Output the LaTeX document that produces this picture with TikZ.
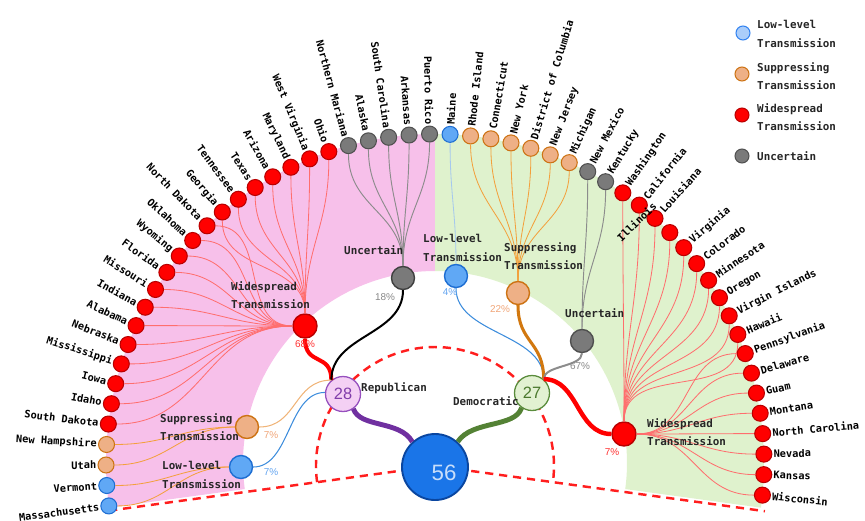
\documentclass[tikz,border=0pt]{standalone}
\usepackage{fontspec}
\setmonofont{DejaVu Sans Mono}
\newfontfamily\numfont{Liberation Sans}
\usepackage{tikz}
\usetikzlibrary{calc}
\usetikzlibrary{positioning}

\definecolor{pinkbg}{RGB}{247,192,234}
\definecolor{greenbg}{RGB}{223,242,205}
\definecolor{wideRed}{RGB}{255,0,0}
\definecolor{wideRim}{RGB}{185,0,0}
\definecolor{wideLine}{RGB}{255,110,110}
\definecolor{supFill}{RGB}{238,176,134}
\definecolor{supRim}{RGB}{205,115,20}
\definecolor{supLine}{RGB}{243,160,60}
\definecolor{supThick}{RGB}{210,120,15}
\definecolor{lowFill}{RGB}{96,168,245}
\definecolor{lowRim}{RGB}{30,110,210}
\definecolor{lowLine}{RGB}{165,200,238}
\definecolor{uncFill}{RGB}{122,122,122}
\definecolor{uncRim}{RGB}{80,80,80}
\definecolor{uncLine}{RGB}{140,140,140}
\definecolor{repFill}{RGB}{244,208,244}
\definecolor{repRim}{RGB}{150,80,190}
\definecolor{repText}{RGB}{128,60,170}
\definecolor{demFill}{RGB}{226,241,210}
\definecolor{demRim}{RGB}{90,140,60}
\definecolor{demText}{RGB}{74,120,45}
\definecolor{totFill}{RGB}{26,117,232}
\definecolor{totRim}{RGB}{10,70,160}
\definecolor{totText}{RGB}{200,222,250}
\definecolor{purpleLink}{RGB}{112,48,160}
\definecolor{greenLink}{RGB}{84,130,53}
\definecolor{dashRed}{RGB}{255,30,30}
\definecolor{linkBlue}{RGB}{60,140,220}
\definecolor{linkOrange}{RGB}{240,180,120}
\definecolor{legLowFill}{RGB}{170,205,250}
\definecolor{legLowRim}{RGB}{50,130,240}
\definecolor{pctRed}{RGB}{255,50,50}
\definecolor{pctGray}{RGB}{136,136,136}
\definecolor{pctBlue}{RGB}{100,165,240}
\definecolor{pctOrange}{RGB}{240,165,120}

\begin{document}
\begin{tikzpicture} [
            x=0.03cm, y=-0.03cm,
            % ----- Node definitions ----- %
            leaf/.style = {circle, inner sep=0pt, minimum size=0.48cm, line width=0.9pt},
            mid/.style = {circle, inner sep=0pt, minimum size=0.69cm, line width=1.2pt},
            party/.style = {circle, inner sep=0pt, minimum size=1.05cm, line width=1.1pt,
                font=\numfont\fontsize{14}{16}\selectfont},
            legdot/.style = {circle, inner sep=0pt, minimum size=0.42cm, line width=0.9pt},
            lowdot/.style = {fill=lowFill, draw=lowRim},
            supdot/.style = {fill=supFill, draw=supRim},
            widedot/.style = {fill=wideRed, draw=wideRim},
            uncdot/.style = {fill=uncFill, draw=uncRim},
            statelbl/.style = {font=\ttfamily\bfseries\fontsize{8.8}{10}\selectfont, inner sep=0.5pt},
            grouplbl/.style = {font=\ttfamily\bfseries\fontsize{9.3}{15.5}\selectfont, inner sep=0pt,
                align=left, text=black!85},
            pct/.style = {font=\numfont\fontsize{8.5}{10}\selectfont, inner sep=0pt},
            % ----- Edge definitions ----- %
            wideedge/.style = {draw=wideLine, line width=0.7pt},
            supedge/.style = {draw=supLine, line width=0.7pt},
            uncedge/.style = {draw=uncLine, line width=0.8pt},
            lowedge/.style = {draw=lowLine, line width=0.7pt},
            linkl/.style = {out=0, in=180, looseness=1.1},
            linkr/.style = {out=180, in=0, looseness=1.1},
            linkv/.style = {out=270, in=90, looseness=1.1},
            dashline/.style = {draw=dashRed, line width=2.1pt, dash pattern=on 7pt off 5pt},
    ]
    \useasboundingbox (0,0) rectangle (865,520);

            % ----- Background sectors ----- %
        \coordinate (C) at (435,463);
        \coordinate (D) at (435,466);
        \fill[pinkbg] ($(C)+(-187.8:192)$) arc[start angle=-187.8, end angle=-90, radius=192]
            -- ($(C)+(-90:329)$) arc[start angle=-90, end angle=-187.8, radius=329] -- cycle;
        \fill[greenbg] ($(C)+(-90:192)$) arc[start angle=-90, end angle=7.8, radius=192]
            -- ($(C)+(7.8:329)$) arc[start angle=7.8, end angle=-90, radius=329] -- cycle;

        \draw[dashline] ($(D)+(-187.8:119)$) arc[start angle=-187.8, end angle=7.8, radius=119];
        \draw[dashline] ($(D)+(-187.8:329)$) -- (D) -- ($(D)+(7.8:333)$);

            % ----- Node constructions ----- %
        \node [mid, widedot, minimum size=0.72cm] (wideL) at (305,326) {};
        \node [mid, uncdot, draw=black!75] (uncL) at (403,278) {};
        \node [mid, lowdot] (lowR) at (456,276) {};
        \node [mid, supdot] (supR) at (518,293) {};
        \node [mid, uncdot] (uncR) at (582,341) {};
        \node [mid, widedot, minimum size=0.72cm] (wideR) at (624,434) {};
        \node [mid, supdot] (supL) at (247,427) {};
        \node [mid, lowdot] (lowL) at (241,467) {};
        \node [party, fill=repFill, draw=repRim, text=repText] (rep) at (343,394) {28};
        \node [party, fill=demFill, draw=demRim, text=demText] (dem) at (532,393) {27};
        \node [circle, inner sep=0pt, minimum size=1.98cm, fill=totFill, draw=totRim,
            line width=1.6pt] (tot) at (435,467) {};
        \node [font=\numfont\fontsize{19}{20}\selectfont, text=totText, inner sep=0pt]
            (totnum) at (444,473) {56};

            % ----- Group links ----- %
        \draw[wideRed, line width=3.4pt] (wideL.south) .. controls +(0,28) and +(0,-28) .. (rep.130);
        \draw[black, line width=1.7pt] (uncL.south) .. controls +(0,45) and +(0,-45) .. (rep.130);
        \draw[linkOrange, line width=0.9pt] (supL.east) .. controls +(38,0) and +(-38,0) .. (rep.130);
        \draw[linkBlue, line width=0.9pt] (lowL.east) .. controls +(37,0) and +(-37,0) .. (rep.175);
        \draw[linkBlue, line width=0.9pt] (lowR.south) .. controls +(0,46) and +(0,-46) .. (dem.50);
        \draw[supThick, line width=2.6pt] (supR.south) .. controls +(0,38) and +(0,-38) .. (dem.50);
        \draw[uncLine, line width=1.7pt] (uncR.south) .. controls +(0,14) and +(0,-14) .. (dem.50);
        \draw[wideRed, line width=3.8pt] (dem.50) .. controls +(35,0) and +(-35,0) .. (wideR.west);
        \draw[purpleLink, line width=4.2pt] (rep.-55) .. controls (360,428) and (400,420) .. (tot.132);
        \draw[greenLink, line width=4.2pt] (dem.-125) .. controls (515,428) and (472,420) .. (tot.48);

            % ----- States ----- %
        \foreach \i/\lab/\kind/\pa/\ed/\mode in {
            0/Massachusetts/lowdot/lowL/supedge/linkl,
            1/Vermont/lowdot/lowL/supedge/linkl,
            2/Utah/supdot/supL/supedge/linkl,
            3/New Hampshire/supdot/supL/supedge/linkl,
            4/South Dakota/widedot/wideL/wideedge/linkl,
            5/Idaho/widedot/wideL/wideedge/linkl,
            6/Iowa/widedot/wideL/wideedge/linkl,
            7/Mississippi/widedot/wideL/wideedge/linkl,
            8/Nebraska/widedot/wideL/wideedge/linkl,
            9/Alabama/widedot/wideL/wideedge/linkl,
            10/Indiana/widedot/wideL/wideedge/linkl,
            11/Missouri/widedot/wideL/wideedge/linkl,
            12/Florida/widedot/wideL/wideedge/linkl,
            13/Wyoming/widedot/wideL/wideedge/linkl,
            14/Oklahoma/widedot/wideL/wideedge/linkl,
            15/North Dakota/widedot/wideL/wideedge/linkl,
            16/Georgia/widedot/wideL/wideedge/linkv,
            17/Tennessee/widedot/wideL/wideedge/linkv,
            18/Texas/widedot/wideL/wideedge/linkv,
            19/Arizona/widedot/wideL/wideedge/linkv,
            20/Maryland/widedot/wideL/wideedge/linkv,
            21/West Virginia/widedot/wideL/wideedge/linkv,
            22/Ohio/widedot/wideL/wideedge/linkv,
            23/Northern Mariana/uncdot/uncL/uncedge/linkv,
            24/Alaska/uncdot/uncL/uncedge/linkv,
            25/South Carolina/uncdot/uncL/uncedge/linkv,
            26/Arkansas/uncdot/uncL/uncedge/linkv,
            27/Puerto Rico/uncdot/uncL/uncedge/linkv,
            28/Maine/lowdot/lowR/lowedge/linkv,
            29/Rhode Island/supdot/supR/supedge/linkv,
            30/Connecticut/supdot/supR/supedge/linkv,
            31/New York/supdot/supR/supedge/linkv,
            32/District of Columbia/supdot/supR/supedge/linkv,
            33/New Jersey/supdot/supR/supedge/linkv,
            34/Michigan/supdot/supR/supedge/linkv,
            35/New Mexico/uncdot/uncR/uncedge/linkv,
            36/Kentucky/uncdot/uncR/uncedge/linkv,
            37/Washington/widedot/wideR/wideedge/linkv,
            38/California/widedot/wideR/wideedge/linkv,
            39/Louisiana/widedot/wideR/wideedge/linkv,
            40//widedot/wideR/wideedge/linkv,
            41/Virginia/widedot/wideR/wideedge/linkv,
            42/Colorado/widedot/wideR/wideedge/linkv,
            43/Minnesota/widedot/wideR/wideedge/linkv,
            44/Oregon/widedot/wideR/wideedge/linkv,
            45/Virgin Islands/widedot/wideR/wideedge/linkv,
            46/Hawaii/widedot/wideR/wideedge/linkv,
            47/Pennsylvania/widedot/wideR/wideedge/linkr,
            48/Delaware/widedot/wideR/wideedge/linkr,
            49/Guam/widedot/wideR/wideedge/linkr,
            50/Montana/widedot/wideR/wideedge/linkr,
            51/North Carolina/widedot/wideR/wideedge/linkr,
            52/Nevada/widedot/wideR/wideedge/linkr,
            53/Kansas/widedot/wideR/wideedge/linkr,
            54/Wisconsin/widedot/wideR/wideedge/linkr}{
            \pgfmathsetmacro{\a}{187.5-3.576*\i}
            \node [leaf, \kind] (l\i) at ($(C)+(-\a:329)$) {};
            \draw[\ed] (l\i) to[\mode] (\pa);
            \ifdim\a pt>90pt
                \pgfmathsetmacro{\rot}{\a-180}
                \node [statelbl, anchor=east, rotate=\rot] (t\i) at ($(C)+(-\a:338)$) {\lab};
            \else
                \node [statelbl, anchor=west, rotate=\a] (t\i) at ($(C)+(-\a:338)$) {\lab};
            \fi
        }
        \node [statelbl, anchor=east, rotate=44] (t40) at (655,204) {Illinois};

            % ----- Group labels ----- %
        \node [grouplbl, anchor=west] (wideLlbl) at (231,295) {Widespread\\Transmission};
        \node [grouplbl, anchor=west] (uncLlbl) at (344,250) {Uncertain};
        \node [grouplbl, anchor=west] (lowRlbl) at (423,248) {Low-level\\Transmission};
        \node [grouplbl, anchor=west] (supRlbl) at (504,256) {Suppressing\\Transmission};
        \node [grouplbl, anchor=west] (uncRlbl) at (565,313) {Uncertain};
        \node [grouplbl, anchor=west] (wideRlbl) at (647,432) {Widespread\\Transmission};
        \node [grouplbl, anchor=west] (supLlbl) at (160,427) {Suppressing\\Transmission};
        \node [grouplbl, anchor=west] (lowLlbl) at (162,475) {Low-level\\Transmission};
        \node [grouplbl, anchor=west] (replbl) at (361,388) {Republican};
        \node [grouplbl, anchor=east] (demlbl) at (519,401) {Democratic};

        \node [pct, text=pctRed] (p68) at (305,344) {68\%};
        \node [pct, text=pctGray] (p18) at (385,297) {18\%};
        \node [pct, text=pctBlue] (p4) at (450,292) {4\%};
        \node [pct, text=pctOrange] (p22) at (500,309) {22\%};
        \node [pct, text=pctGray] (p67) at (580,366) {67\%};
        \node [pct, text=pctRed] (p7w) at (612,452) {7\%};
        \node [pct, text=pctOrange] (p7s) at (271,435) {7\%};
        \node [pct, text=pctBlue] (p7l) at (271,472) {7\%};

            % ----- Legend ----- %
        \node [legdot, fill=legLowFill, draw=legLowRim] (leg1) at (743,33) {};
        \node [legdot, supdot] (leg2) at (742,74) {};
        \node [legdot, widedot] (leg3) at (742,115) {};
        \node [legdot, uncdot] (leg4) at (742,156) {};
        \node [grouplbl, anchor=west] (leg1lbl) at (757,34) {Low-level\\Transmission};
        \node [grouplbl, anchor=west] (leg2lbl) at (757,76) {Suppressing\\Transmission};
        \node [grouplbl, anchor=west] (leg3lbl) at (757,117) {Widespread\\Transmission};
        \node [grouplbl, anchor=west] (leg4lbl) at (757,156) {Uncertain};
          
\end{tikzpicture}
\end{document}
